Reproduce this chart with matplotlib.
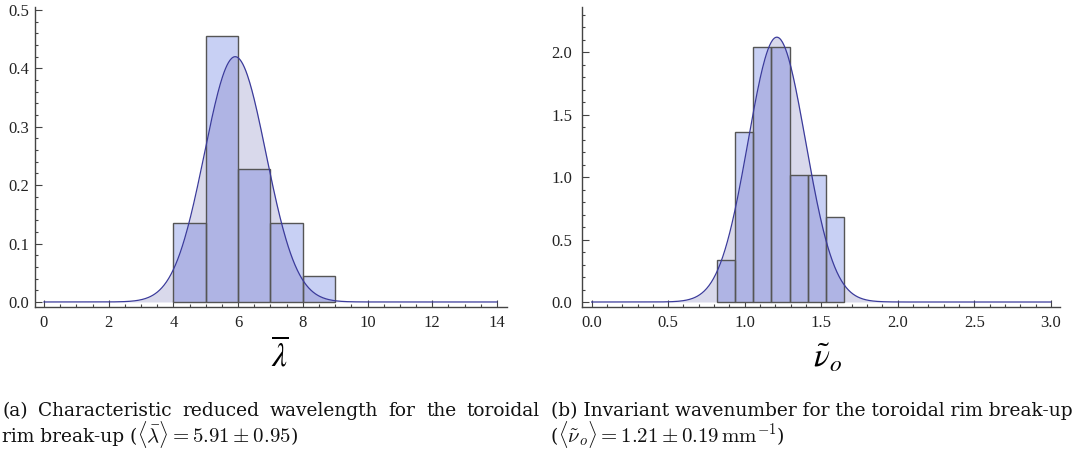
import numpy as np
import matplotlib
matplotlib.use("Agg")
import matplotlib.pyplot as plt
from matplotlib.patches import Rectangle
from matplotlib.ticker import MultipleLocator

plt.rcParams["font.family"] = ["Liberation Serif", "DejaVu Serif"]

# --------------------------------------------------------------
# Data
# --------------------------------------------------------------
lam_edges = [4, 5, 6, 7, 8, 9]
lam_density = [0.136, 0.4545, 0.227, 0.136, 0.045]
lam_mean, lam_sd = 5.91, 0.95

nu_edges = [0.821, 0.939, 1.057, 1.175, 1.293, 1.411, 1.529, 1.647]
nu_density = [0.34, 1.36, 2.04, 2.04, 1.02, 1.02, 0.68]
nu_mean, nu_sd = 1.21, 0.188

lam_ticks = [0, 2, 4, 6, 8, 10, 12, 14]
nu_ticks = [0.0, 0.5, 1.0, 1.5, 2.0, 2.5, 3.0]

# colours
bar_face = "#c8d0f4"
curve_fill = "#d9d9eb"
overlap = "#afb4e4"
bar_edge = "#555555"
curve_line = "#3b3b9b"
axis_col = "#444444"

W, H = 1073, 458
fig = plt.figure(figsize=(W / 100, H / 100), dpi=100)


def px_axes(x0, x1, ytop, ybot):
    return fig.add_axes([x0 / W, 1 - ybot / H, (x1 - x0) / W, (ybot - ytop) / H])


def hist_panel(ax, edges, dens, mu, sd, xmax):
    x = np.linspace(0, xmax, 600)
    pdf = np.exp(-0.5 * ((x - mu) / sd) ** 2) / (sd * np.sqrt(2 * np.pi))
    ax.fill_between(x, 0, pdf, color=curve_fill, lw=0, zorder=1)
    widths = np.diff(edges)
    bars = ax.bar(edges[:-1], dens, width=widths, align="edge",
                  color=bar_face, edgecolor="none", zorder=2)
    # darker part where the bars sit under the fitted curve
    for b in bars:
        clip = Rectangle(b.get_xy(), b.get_width(), b.get_height(),
                         transform=ax.transData)
        f = ax.fill_between(x, 0, pdf, color=overlap, lw=0, zorder=3)
        f.set_clip_path(clip)
    ax.bar(edges[:-1], dens, width=widths, align="edge",
           color="none", edgecolor=bar_edge, lw=1.0, zorder=4)
    ax.plot(x, pdf, color=curve_line, lw=0.9, zorder=5)

    for s in ["top", "right"]:
        ax.spines[s].set_visible(False)
    for s in ["left", "bottom"]:
        ax.spines[s].set_color(axis_col)
        ax.spines[s].set_linewidth(1.0)
    ax.tick_params(which="both", direction="in", color=axis_col,
                   labelcolor="#222222", width=0.8, labelsize=12)
    ax.tick_params(which="major", length=5)
    ax.tick_params(which="minor", length=2.5)


# --------------------------------------------------------------
# (a) reduced wavelength
# --------------------------------------------------------------
ax1 = px_axes(35, 507, 7, 307)
ax1.set_xlim(-0.278, 14.31)
ax1.set_ylim(-0.0086, 0.505)
ax1.set_xticks(lam_ticks)
ax1.xaxis.set_minor_locator(MultipleLocator(0.5))
ax1.yaxis.set_major_locator(MultipleLocator(0.1))
ax1.yaxis.set_minor_locator(MultipleLocator(0.02))
ax1.yaxis.set_major_formatter(lambda v, p: f"{v:.1f}")
hist_panel(ax1, lam_edges, lam_density, lam_mean, lam_sd, 14)
ax1.tick_params(axis="x", pad=6)
ax1.tick_params(axis="y", pad=4)

# --------------------------------------------------------------
# (b) invariant wavenumber
# --------------------------------------------------------------
ax2 = px_axes(582, 1060, 7, 307)
ax2.set_xlim(-0.063, 3.06)
ax2.set_ylim(-0.04, 2.364)
ax2.set_xticks(nu_ticks)
ax2.xaxis.set_minor_locator(MultipleLocator(0.1))
ax2.yaxis.set_major_locator(MultipleLocator(0.5))
ax2.yaxis.set_minor_locator(MultipleLocator(0.1))
ax2.xaxis.set_major_formatter(lambda v, p: f"{v:.1f}")
ax2.yaxis.set_major_formatter(lambda v, p: f"{v:.1f}")
hist_panel(ax2, nu_edges, nu_density, nu_mean, nu_sd, 3)
ax2.tick_params(axis="x", pad=6)
ax2.tick_params(axis="y", pad=7)

# axis symbols
fig.text(280 / W, 1 - 355 / H, r"$\overline{\lambda}$", fontsize=24,
         math_fontfamily="stix", ha="center", va="center")
fig.text(828 / W, 1 - 358 / H, r"$\tilde{\nu}_o$", fontsize=24,
         math_fontfamily="stix", ha="center", va="center")

# --------------------------------------------------------------
# Captions
# --------------------------------------------------------------
cap = dict(fontfamily="DejaVu Serif", fontsize=13.4, color="#111111",
           math_fontfamily="cm", va="baseline")
rend = fig.canvas.get_renderer()


def justify(words, x0, x1, y):
    ts = [fig.text(0, 1 - y / H, w, **cap) for w in words]
    ws = [t.get_window_extent(rend).width for t in ts]
    gap = (x1 - x0 - sum(ws)) / (len(ws) - 1)
    x = x0
    for t, w in zip(ts, ws):
        t.set_x(x / W)
        x += w + gap


def inline(parts, x, y):
    # text pieces one after the other, math a bit larger than the text
    for s, size in parts:
        t = fig.text(x / W, 1 - y / H, s, **{**cap, "fontsize": size})
        x += t.get_window_extent(rend).width


justify("(a) Characteristic reduced wavelength for the toroidal".split(), 2, 540, 416)
inline([("rim break-up (", 13.4),
        (r"$\langle\bar{\lambda}\rangle = 5.91 \pm 0.95$", 15),
        (")", 13.4)], 2, 442)
fig.text(551 / W, 1 - 416 / H,
         "(b) Invariant wavenumber for the toroidal rim break-up", **cap)
inline([("(", 13.4),
        (r"$\langle\tilde{\nu}_o\rangle = 1.21 \pm 0.19\,\mathrm{mm}^{-1}$", 15),
        (")", 13.4)], 551, 442)

fig.savefig("out.png", dpi=100)
